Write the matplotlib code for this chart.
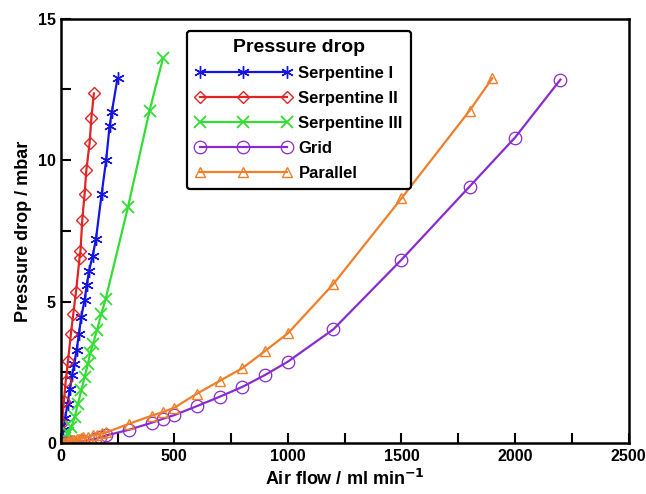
import matplotlib
matplotlib.use("Agg")
import matplotlib.pyplot as plt
from matplotlib.ticker import MultipleLocator

plt.rcParams['font.family'] = ['Liberation Sans', 'DejaVu Sans']
plt.rcParams['font.weight'] = 'bold'

# Serpentine I
x1 = [0, 10, 20, 30, 40, 50, 60, 70, 80, 90, 105, 115, 125, 140, 155, 180, 200, 215, 225, 250]
y1 = [0, 0.45, 0.9, 1.4, 1.9, 2.4, 2.8, 3.3, 3.85, 4.45, 5.05, 5.6, 6.1, 6.6, 7.2, 8.8, 10.0, 11.2, 11.7, 12.9]
# Serpentine II
x2 = [0, 6, 14, 22, 32, 45, 55, 67, 83, 87, 95, 105, 113, 127, 135, 146]
y2 = [0, 0.7, 1.5, 2.2, 2.9, 3.87, 4.55, 5.33, 6.55, 6.8, 7.9, 8.8, 9.66, 10.6, 11.5, 12.36]
# Serpentine III
x3 = [0, 10, 20, 32, 47, 62, 76, 91, 105, 120, 130, 142, 160, 179, 198, 296, 391, 450]
y3 = [0, 0.08, 0.18, 0.34, 0.58, 0.93, 1.4, 1.87, 2.34, 2.8, 3.2, 3.5, 4.0, 4.58, 5.1, 8.34, 11.75, 13.6]
# Grid
x4 = [0, 25, 50, 100, 150, 175, 200, 300, 400, 450, 500, 600, 700, 800, 900, 1000, 1200, 1500, 1800, 2000, 2200]
y4 = [0, 0.01, 0.03, 0.07, 0.15, 0.2, 0.27, 0.47, 0.72, 0.86, 0.99, 1.31, 1.64, 1.99, 2.41, 2.88, 4.02, 6.48, 9.07, 10.8, 12.85]
# Parallel
x5 = [0, 10, 20, 30, 40, 50, 60, 70, 80, 90, 100, 120, 140, 160, 180, 200, 300, 400, 450, 500,
      600, 700, 800, 900, 1000, 1200, 1500, 1800, 1900]
y5 = [0, 0.02, 0.04, 0.06, 0.08, 0.1, 0.12, 0.14, 0.16, 0.18, 0.2, 0.23, 0.27, 0.3, 0.34, 0.38, 0.68, 0.97, 1.1, 1.25,
      1.75, 2.2, 2.65, 3.26, 3.88, 5.62, 8.65, 11.75, 12.9]

fig = plt.figure(figsize=(6.46, 4.94), dpi=100)
ax = fig.add_axes([0.094, 0.103, 0.879, 0.859])

ax.plot(x1, y1, color="#1515e0", marker=(6, 2, 0), markersize=9, lw=1.6, label="Serpentine I")
ax.plot(x2, y2, color="#e02424", marker='D', markersize=6, mfc='none', lw=1.6, label="Serpentine II")
ax.plot(x3, y3, color="#33dd33", marker='x', markersize=8, mew=1.3, lw=1.6, label="Serpentine III")
ax.plot(x4, y4, color="#8a2bd0", marker='o', markersize=9, mfc='none', mew=0.9, lw=1.6, label="Grid")
ax.plot(x5, y5, color="#f07f2a", marker='^', markersize=7, mfc='none', lw=1.6, label="Parallel")

ax.set_xlim(0, 2500)
ax.set_ylim(0, 15)
ax.xaxis.set_major_locator(MultipleLocator(500))
ax.xaxis.set_minor_locator(MultipleLocator(250))
ax.yaxis.set_major_locator(MultipleLocator(5))
ax.yaxis.set_minor_locator(MultipleLocator(2.5))
ax.tick_params(which='both', direction='in', length=7, width=1.5, labelsize=11.5)
ax.tick_params(axis='x', pad=4)
for s in ax.spines.values():
    s.set_linewidth(1.8)

ax.set_xlabel("Air flow / ml min$^{\\mathbf{-1}}$", fontsize=13, fontweight='bold')
ax.set_ylabel("Pressure drop / mbar", fontsize=13, fontweight='bold')

leg = ax.legend(title="Pressure drop", loc='upper left', bbox_to_anchor=(0.222, 0.972),
                numpoints=3, handlelength=5.8, fontsize=12, title_fontsize=14,
                borderaxespad=0, labelspacing=0.6, handletextpad=0.4, fancybox=True,
                framealpha=1, borderpad=0.5)
leg.get_title().set_fontweight('bold')
leg.get_frame().set_edgecolor('black')
leg.get_frame().set_linewidth(1.6)
for t in leg.get_texts():
    t.set_fontweight('bold')

fig.savefig("out.png", dpi=100)
